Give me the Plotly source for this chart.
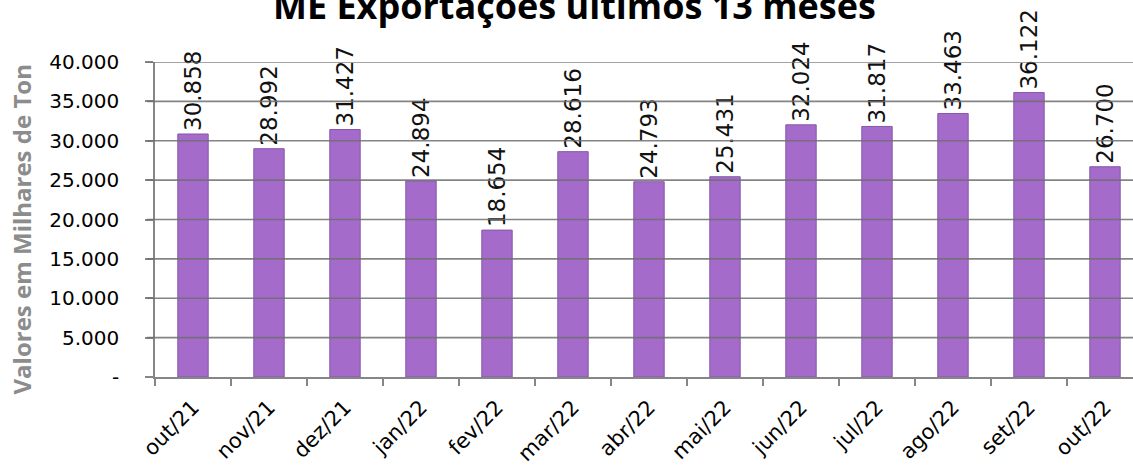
import plotly.graph_objects as go

months = ["out/21", "nov/21", "dez/21", "jan/22", "fev/22", "mar/22", "abr/22",
          "mai/22", "jun/22", "jul/22", "ago/22", "set/22", "out/22"]
values = [30858, 28992, 31427, 24894, 18654, 28616, 24793, 25431, 32024, 31817,
          33463, 36122, 26700]
tick_vals = [0, 5000, 10000, 15000, 20000, 25000, 30000, 35000, 40000]
tick_text = ["-", "5.000", "10.000", "15.000", "20.000", "25.000", "30.000",
             "35.000", "40.000"]

fig = go.Figure()
fig.add_trace(go.Bar(
    x=months, y=values, width=0.4,
    marker=dict(color="#A46BCB", line=dict(color="#8558A8", width=1)),
    texttemplate="%{y:,.0f}", textposition="outside", textangle=-90,
    textfont=dict(family="DejaVu Sans", size=23, color="#111111"),
    cliponaxis=False, constraintext="none",
))

shapes = []
for v in tick_vals[1:]:
    shapes.append(dict(type="line", xref="paper", yref="y", x0=-0.008, x1=1,
                       y0=v, y1=v, layer="above",
                       line=dict(color="rgba(110,110,110,0.85)", width=1.6)))

fig.update_layout(
    width=1143, height=466,
    margin=dict(l=155, r=0, t=62, b=89),
    paper_bgcolor="white", plot_bgcolor="white",
    separators=",.",
    showlegend=False,
    shapes=shapes,
    annotations=[
        dict(text="<b>ME Exportações últimos 13 meses</b>",
             xref="paper", yref="paper", x=0.425, y=1,
             xanchor="center", yanchor="bottom", yshift=30,
             showarrow=False,
             font=dict(family="Open Sans", size=36, color="black")),
        dict(text="<b>Valores em Milhares de Ton</b>", textangle=-90,
             xref="paper", yref="paper", x=0, y=0.5,
             xanchor="center", yanchor="middle", xshift=-134, yshift=-10,
             showarrow=False,
             font=dict(family="Open Sans", size=24, color="#8C8C8C")),
    ],
    xaxis=dict(
        automargin=False,
        tickangle=-45, tickson="boundaries", ticks="outside", ticklen=7,
        tickcolor="#868686", tickwidth=1.5,
        ticklabelstandoff=8,
        showline=True, linecolor="#868686", linewidth=1.5,
        tickfont=dict(family="DejaVu Sans", size=21, color="black"),
        showgrid=False,
    ),
    yaxis=dict(
        automargin=False,
        range=[0, 40000], tickvals=tick_vals, ticktext=tick_text,
        ticks="outside", ticklen=8, tickcolor="#868686", tickwidth=1.5,
        ticklabelstandoff=22,
        showline=True, linecolor="#868686", linewidth=1.5,
        showgrid=False, zeroline=False,
        tickfont=dict(family="DejaVu Sans", size=20, color="black"),
    ),
)

fig.write_html("out.html", config={"displayModeBar": False},
               post_script="document.body.style.margin='0';"
                           "document.body.style.overflow='hidden';")
